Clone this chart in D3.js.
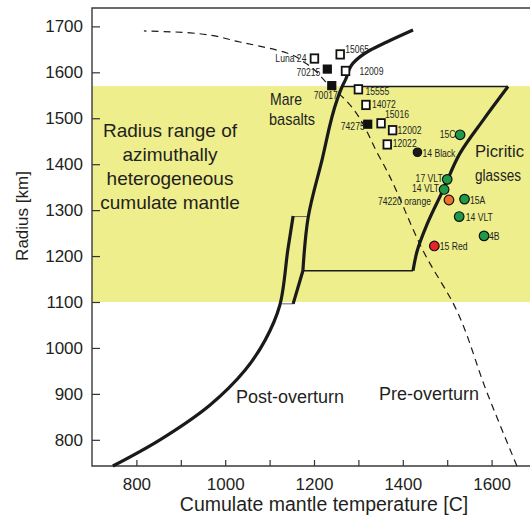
<!DOCTYPE html>
<html>
<head>
<meta charset="utf-8">
<script src="https://cdn.jsdelivr.net/npm/d3@7"></script>
<style>
  body { margin: 0; background: #fff; }
  text { font-family: "Liberation Sans", Arial, sans-serif; fill: #231f20; }
</style>
</head>
<body>
<div id="chart"></div>
<script>
// ---- data ----
// open squares (mare basalts)
var openNames = ["Luna 24", "15065", "12009", "15555", "14072", "15016", "12002", "12022"];
var openTemps = [1201, 1259, 1271, 1300, 1317, 1351, 1377, 1365];
var openRadii = [1630, 1639, 1603, 1563, 1529, 1489, 1474, 1443];

// filled squares (mare basalts)
var filledNames = ["70215", "70017", "74275"];
var filledTemps = [1230, 1240, 1321];
var filledRadii = [1607, 1571, 1487];

// picritic glasses
var glassNames = ["14 Black", "15C", "17 VLT", "14 VLT", "74220 orange", "15A", "14 VLT ", "4B", "15 Red"];
var glassTemps = [1433, 1529, 1500, 1493, 1504, 1539, 1527, 1583, 1471];
var glassRadii = [1426, 1464, 1367, 1345, 1322, 1324, 1286, 1244, 1222];
var glassKind  = ["black", "green", "green", "green", "orange", "green", "green", "green", "red"];

// profiles
var preDashT = [817, 921, 1033, 1139, 1184, 1236, 1259, 1349, 1457, 1513, 1590, 1657];
var preDashR = [1690, 1686, 1666, 1642, 1618, 1570, 1551, 1413, 1191, 1098, 902, 743];

var postT = [747, 853, 966, 1045, 1090, 1123, 1141, 1153];
var postR = [743, 800, 876, 952, 1017, 1093, 1213, 1287];

var stepLowT = [1153, 1175];
var stepLowR = [1096, 1168];
var upperT = [1175, 1187, 1218, 1252, 1263, 1271, 1288, 1326, 1364, 1423];
var upperR = [1168, 1285, 1409, 1540, 1568, 1584, 1620, 1648, 1666, 1692];

var preSolidT = [1423, 1432, 1455, 1491, 1529, 1581, 1637];
var preSolidR = [1168, 1210, 1270, 1344, 1424, 1496, 1569];

var bandR = [1100, 1570];
var xTicks = [800, 900, 1000, 1100, 1200, 1300, 1400, 1500, 1600];
var yTicks = [800, 900, 1000, 1100, 1200, 1300, 1400, 1500, 1600, 1700];

// ---- layout ----
var W = 530, H = 516;
var x = d3.scaleLinear().domain([700, 1700]).range([92, 536]);
var y = d3.scaleLinear().domain([743, 1740]).range([466, 8]);

var glassColor = {green: "#1f9a48", orange: "#f26f2c", red: "#e5232a", black: "#1a1a1a"};

// label offsets from marker centre [dx, dy, anchor]
var labelPos = {
  "Luna 24": [-8, 3.5, "end"], "15065": [5, -1, "start"], "12009": [14, 4.5, "start"],
  "15555": [7, 6, "start"], "14072": [6, 3.5, "start"], "15016": [4, -5, "start"],
  "12002": [5, 4, "start"], "12022": [5.5, 3, "start"],
  "70215": [-7, 7, "end"], "70017": [6, 13, "end"], "74275": [-3, 6, "end"],
  "14 Black": [5, 4.5, "start"], "15C": [-4.5, 3.5, "end"], "17 VLT": [-4.5, 3, "end"],
  "14 VLT": [-5, 3, "end"], "74220 orange": [-18, 5, "end"], "15A": [5.5, 4.5, "start"],
  "14 VLT ": [6.5, 4, "start"], "4B": [5, 4, "start"], "15 Red": [5.5, 4, "start"]
};

var svg = d3.select("#chart").append("svg")
  .attr("width", W)
  .attr("height", H);

// yellow band
svg.append("rect")
  .attr("x", x(700))
  .attr("y", y(bandR[1]))
  .attr("width", x(1700) - x(700))
  .attr("height", y(bandR[0]) - y(bandR[1]))
  .attr("fill", "#eeee8c");

// axes
var yAxis = svg.append("g")
  .attr("transform", "translate(" + x(700) + ",0)")
  .call(d3.axisLeft(y).tickValues(yTicks).tickSize(-8).tickPadding(9).tickFormat(d3.format("d")));
var xAxis = svg.append("g")
  .attr("transform", "translate(0," + y(743) + ")")
  .call(d3.axisBottom(x).tickValues(xTicks).tickSize(-6).tickPadding(12)
    .tickFormat(function(d) { return d % 200 === 0 ? d : ""; }));
[yAxis, xAxis].forEach(function(a) {
  a.select(".domain").remove();
  a.selectAll("line").attr("stroke", "#333").attr("stroke-width", 1.2);
  a.selectAll("text").style("font-size", "17px").attr("fill", "#231f20");
});

// frame
svg.append("path")
  .attr("d", "M" + x(1700) + "," + y(743) + "H" + x(700) + "V" + y(1740) + "H" + x(1700))
  .attr("fill", "none")
  .attr("stroke", "#3a3a3a")
  .attr("stroke-width", 1.4);

var line = d3.line()
  .x(function(d) { return x(d[0]); })
  .y(function(d) { return y(d[1]); });
var smooth = d3.line()
  .x(function(d) { return x(d[0]); })
  .y(function(d) { return y(d[1]); })
  .curve(d3.curveMonotoneY);
var round = d3.line()
  .x(function(d) { return x(d[0]); })
  .y(function(d) { return y(d[1]); })
  .curve(d3.curveCatmullRom.alpha(0.5));

function byRadius(t, r) {
  return d3.zip(t, r).sort(function(a, b) { return a[1] - b[1]; });
}

// pre-overturn dashed profile
svg.append("path")
  .datum(byRadius(preDashT, preDashR))
  .attr("d", smooth)
  .attr("fill", "none")
  .attr("stroke", "#1a1a1a")
  .attr("stroke-width", 1.2)
  .attr("stroke-dasharray", "7,5");

// thin connectors
var thin = [
  [[1153, 1286], [1187, 1286], "#666", 1],
  [[1128, 1096], [1153, 1096], "#666", 1],
  [[1175, 1168], [1423, 1168], "#1a1a1a", 1.4],
  [[1263, 1569], [1637, 1569], "#1a1a1a", 1.4]
];
thin.forEach(function(c) {
  svg.append("path")
    .datum([c[0], c[1]])
    .attr("d", line)
    .attr("fill", "none")
    .attr("stroke", c[2])
    .attr("stroke-width", c[3]);
});

// thick profiles
[[byRadius(postT, postR), round], [d3.zip(stepLowT, stepLowR), line],
 [byRadius(upperT, upperR), smooth], [byRadius(preSolidT, preSolidR), smooth]].forEach(function(p) {
  svg.append("path")
    .datum(p[0])
    .attr("d", p[1])
    .attr("fill", "none")
    .attr("stroke", "#1a1a1a")
    .attr("stroke-width", 3.2)
    .attr("stroke-linejoin", "round");
});

// markers
var openData = openNames.map(function(n, i) { return {name: n, t: openTemps[i], r: openRadii[i]}; });
var filledData = filledNames.map(function(n, i) { return {name: n, t: filledTemps[i], r: filledRadii[i]}; });
var glassData = glassNames.map(function(n, i) { return {name: n, t: glassTemps[i], r: glassRadii[i], k: glassKind[i]}; });

svg.append("g").selectAll("rect")
  .data(openData).enter().append("rect")
    .attr("x", function(d) { return x(d.t) - 3.8; })
    .attr("y", function(d) { return y(d.r) - 4.2; })
    .attr("width", 7.6)
    .attr("height", 8.4)
    .attr("fill", "#fff")
    .attr("stroke", "#111")
    .attr("stroke-width", 1.8);

svg.append("g").selectAll("rect")
  .data(filledData).enter().append("rect")
    .attr("x", function(d) { return x(d.t) - 4.6; })
    .attr("y", function(d) { return y(d.r) - 4.6; })
    .attr("width", 9.2)
    .attr("height", 9.2)
    .attr("fill", "#111");

svg.append("g").selectAll("circle")
  .data(glassData).enter().append("circle")
    .attr("cx", function(d) { return x(d.t); })
    .attr("cy", function(d) { return y(d.r); })
    .attr("r", function(d) { return d.k === "black" ? 4.2 : 4.8; })
    .attr("fill", function(d) { return glassColor[d.k]; })
    .attr("stroke", "#111")
    .attr("stroke-width", 1.2);

// point labels (narrow)
var allPts = openData.concat(filledData, glassData);
svg.append("g").selectAll("text")
  .data(allPts).enter().append("text")
    .attr("x", function(d) { return x(d.t) + labelPos[d.name][0]; })
    .attr("y", function(d) { return y(d.r) + labelPos[d.name][1]; })
    .attr("text-anchor", function(d) { return labelPos[d.name][2]; })
    .style("font-size", "10px")
    .text(function(d) { return d.name.trim(); })
    .each(function() {
      var w = this.getComputedTextLength();
      d3.select(this).attr("textLength", w * 0.86).attr("lengthAdjust", "spacingAndGlyphs");
    });

// region labels
var band = svg.append("text")
  .attr("text-anchor", "middle")
  .style("font-size", "19px");
["Radius range of", "azimuthally", "heterogeneous", "cumulate mantle"].forEach(function(s, i) {
  band.append("tspan").attr("x", 170).attr("y", 137 + i * 24).text(s);
});

function narrow(txt, xs, ys, size, len) {
  svg.append("text")
    .attr("x", xs).attr("y", ys)
    .style("font-size", size + "px")
    .attr("textLength", len)
    .attr("lengthAdjust", "spacingAndGlyphs")
    .text(txt);
}
narrow("Mare", 270, 105, 17, 32);
narrow("basalts", 269, 125, 17, 46);
narrow("Picritic", 475, 157, 16.5, 49);
narrow("glasses", 475, 181, 16, 46);

svg.append("text").attr("x", 236).attr("y", 403).style("font-size", "18px").text("Post-overturn");
svg.append("text").attr("x", 379).attr("y", 400).style("font-size", "18px").text("Pre-overturn");

// axis titles
svg.append("text")
  .attr("x", 324).attr("y", 511)
  .attr("text-anchor", "middle")
  .style("font-size", "19.5px")
  .text("Cumulate mantle temperature [C]");
svg.append("text")
  .attr("transform", "translate(28,216) rotate(-90)")
  .attr("text-anchor", "middle")
  .style("font-size", "17px")
  .text("Radius [km]");
</script>
</body>
</html>
